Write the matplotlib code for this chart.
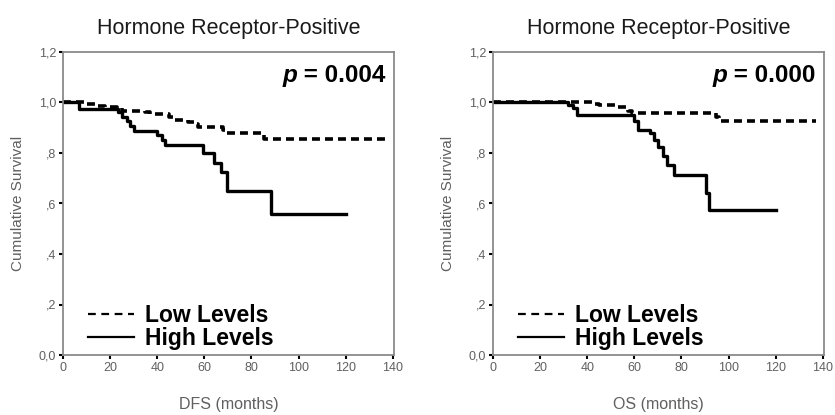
import matplotlib
matplotlib.use('Agg')
import matplotlib.pyplot as plt
from matplotlib.lines import Line2D

plt.rcParams['font.family'] = ['Liberation Sans', 'DejaVu Sans']

# Kaplan-Meier steps (time in months, cumulative survival)
dfs_low_t = [0, 10, 14, 18, 23, 25, 35, 37, 45, 46.5, 53, 56, 57.5, 68, 69.5, 85.5, 137]
dfs_low_s = [1.0, 0.994, 0.988, 0.983, 0.977, 0.968, 0.962, 0.955, 0.941, 0.931, 0.924, 0.914, 0.904, 0.891, 0.878, 0.854, 0.854]
dfs_high_t = [0, 7, 23.5, 25, 27, 28.5, 30, 40, 42, 43.5, 59.5, 64, 67, 69.5, 88.5, 120]
dfs_high_s = [1.0, 0.975, 0.963, 0.944, 0.925, 0.906, 0.889, 0.870, 0.852, 0.833, 0.800, 0.762, 0.724, 0.651, 0.558, 0.558]

os_low_t = [0, 42, 45, 53, 57.5, 59, 94.5, 96, 137]
os_low_s = [1.0, 0.995, 0.989, 0.983, 0.968, 0.958, 0.943, 0.927, 0.927]
os_high_t = [0, 32, 34, 35.5, 60, 61.5, 66.5, 68.5, 70, 72, 74, 77, 90.5, 91.5, 120]
os_high_s = [1.0, 0.99, 0.977, 0.952, 0.925, 0.891, 0.878, 0.851, 0.825, 0.79, 0.752, 0.713, 0.64, 0.573, 0.573]

titles = ['Hormone Receptor-Positive', 'Hormone Receptor-Positive']
xlabels = ['DFS (months)', 'OS (months)']
pvalues = ['0.004', '0.000']
xticks = [0, 20, 40, 60, 80, 100, 120, 140]
yticks = [0.0, 0.2, 0.4, 0.6, 0.8, 1.0, 1.2]
ytick_labels = ['0,0', ',2', ',4', ',6', ',8', '1,0', '1,2']
legend_labels = ['Low Levels', 'High Levels']

panels = [
    (dfs_low_t, dfs_low_s, dfs_high_t, dfs_high_s),
    (os_low_t, os_low_s, os_high_t, os_high_s),
]

fig = plt.figure(figsize=(8.35, 4.15), dpi=100)
lefts = [63 / 835, 493 / 835]

for i, (lt, ls, ht, hs) in enumerate(panels):
    ax = fig.add_axes([lefts[i], 1 - 355 / 415, 331 / 835, 303 / 415])
    ax.step(lt, ls, where='post', color='black', lw=2.6, linestyle=(0, (2.2, 1.4)))
    ax.step(ht, hs, where='post', color='black', lw=2.4)

    ax.set_xlim(0, 140.5)
    ax.set_ylim(0, 1.2)
    ax.set_xticks(xticks)
    ax.set_yticks(yticks)
    ax.set_yticklabels(ytick_labels)
    for sp in ax.spines.values():
        sp.set_color('#8a8a8a')
        sp.set_linewidth(1.3)
    ax.tick_params(axis='both', direction='out', length=3, width=1.5,
                   color='black', labelsize=9, labelcolor='#606060', pad=2)

    ax.set_title(titles[i], fontsize=15.5, color='#1a1a1a', pad=13)
    ax.set_xlabel(xlabels[i], fontsize=11.5, color='#606060', va='center')
    ax.xaxis.set_label_coords(0.5, -0.165)
    ax.set_ylabel('Cumulative Survival', fontsize=11, color='#606060', labelpad=10)

    # p value: italic bold "p" placed just left of the bold number
    pt = ax.text(0.975, 0.885, ' = ' + pvalues[i], transform=ax.transAxes,
                 fontsize=17.5, fontweight='bold', ha='right', va='bottom')
    ax.annotate('p', xy=(0, 0), xycoords=pt, fontsize=17.5, fontweight='bold',
                fontstyle='italic', ha='right', va='bottom')

    handles = [Line2D([], [], color='black', lw=1.6, linestyle=(0, (3.5, 2.5))),
               Line2D([], [], color='black', lw=1.6)]
    ax.legend(handles, legend_labels, loc='lower left', bbox_to_anchor=(0.075, 0.017),
              frameon=False, handlelength=2.0, handletextpad=0.5, labelspacing=0.0,
              borderpad=0, borderaxespad=0, prop={'size': 16.5, 'weight': 'bold'})

fig.savefig('out.png', dpi=100)
